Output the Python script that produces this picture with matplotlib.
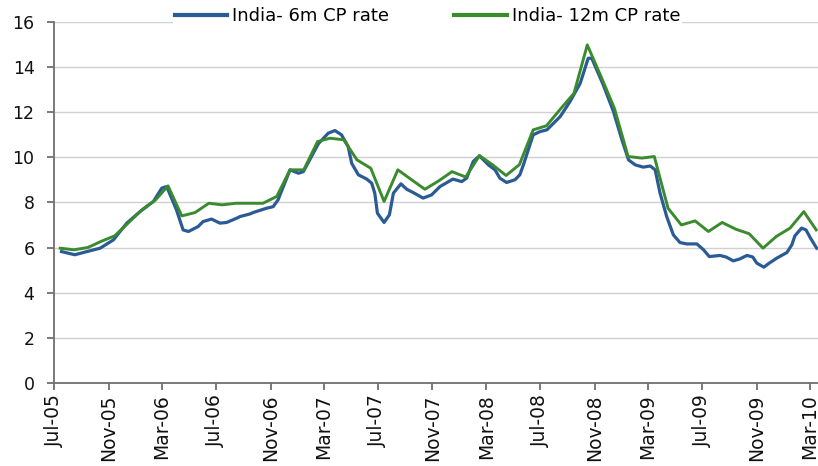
import numpy as np
import pandas as pd
import matplotlib
matplotlib.use("Agg")
import matplotlib.pyplot as plt
import matplotlib.dates as mdates

# 12m CP rate, monthly (mid-month)
dates_12m = pd.date_range("2005-07-01", "2010-03-01", freq="MS") + pd.Timedelta(days=14)
rate_12m = [5.97, 5.90, 6.00, 6.27, 6.52, 7.08,
            7.67, 8.11, 8.73, 7.40, 7.55, 7.96, 7.89, 7.96, 7.96, 7.96, 8.26, 9.44,
            9.44, 10.69, 10.84, 10.77, 9.88, 9.51, 8.04, 9.44, 9.00, 8.58, 8.95, 9.36,
            9.12, 10.07, 9.67, 9.19, 9.67, 11.21, 11.39, 12.12, 12.83, 14.97, 13.57, 12.17,
            10.03, 9.96, 10.03, 7.74, 7.00, 7.18, 6.71, 7.11, 6.81, 6.61, 5.97, 6.49,
            6.86, 7.59, 6.78]

# 6m CP rate
dates_6m = pd.to_datetime([
    "2005-07-18", "2005-08-17", "2005-09-13", "2005-10-13", "2005-11-12", "2005-12-12",
    "2006-01-11", "2006-02-10", "2006-03-01", "2006-03-12", "2006-04-03", "2006-04-18",
    "2006-04-30", "2006-05-22", "2006-06-02", "2006-06-21", "2006-07-10", "2006-07-25",
    "2006-08-17", "2006-08-24", "2006-09-16", "2006-09-23", "2006-10-23", "2006-11-07",
    "2006-11-18", "2006-12-15", "2007-01-03", "2007-01-14", "2007-02-17", "2007-03-11",
    "2007-03-26", "2007-04-10", "2007-04-25", "2007-05-03", "2007-05-18", "2007-06-06",
    "2007-06-17", "2007-06-24", "2007-06-30", "2007-07-15", "2007-07-27", "2007-08-05",
    "2007-08-22", "2007-09-04", "2007-09-19", "2007-10-11", "2007-10-30", "2007-11-18",
    "2007-12-17", "2008-01-06", "2008-01-17", "2008-02-01", "2008-02-15", "2008-03-06",
    "2008-03-21", "2008-04-01", "2008-04-16", "2008-05-05", "2008-05-16", "2008-05-24",
    "2008-06-15", "2008-06-30", "2008-07-16", "2008-08-15", "2008-09-06", "2008-09-29",
    "2008-10-17", "2008-10-25", "2008-11-20", "2008-12-13", "2009-01-01", "2009-01-16",
    "2009-01-31", "2009-02-18", "2009-03-06", "2009-03-17", "2009-03-28", "2009-04-12",
    "2009-04-27", "2009-05-12", "2009-05-27", "2009-06-19", "2009-07-04", "2009-07-17",
    "2009-08-10", "2009-08-24", "2009-09-09", "2009-09-23", "2009-10-10", "2009-10-23",
    "2009-11-01", "2009-11-17", "2009-11-27", "2009-12-16", "2010-01-08", "2010-01-19",
    "2010-01-26", "2010-02-10", "2010-02-20", "2010-03-02", "2010-03-16"])
rate_6m = [5.82, 5.68, 5.82, 5.97, 6.34, 7.08,
           7.59, 8.04, 8.63, 8.70, 7.67, 6.78,
           6.71, 6.93, 7.15, 7.26, 7.08, 7.11,
           7.30, 7.37, 7.49, 7.55, 7.74, 7.81,
           8.11, 9.44, 9.29, 9.36, 10.60, 11.06,
           11.18, 10.99, 10.47, 9.73, 9.22, 9.03,
           8.85, 8.41, 7.52, 7.11, 7.45, 8.41,
           8.82, 8.58, 8.43, 8.19, 8.33, 8.70,
           9.03, 8.92, 9.07, 9.81, 10.06, 9.66,
           9.44, 9.07, 8.88, 9.00, 9.22, 9.66,
           10.99, 11.13, 11.21, 11.80, 12.46, 13.27,
           14.38, 14.38, 13.20, 12.02, 10.77, 9.88,
           9.66, 9.56, 9.61, 9.44, 8.41, 7.37,
           6.56, 6.22, 6.16, 6.16, 5.90, 5.60,
           5.65, 5.58, 5.41, 5.49, 5.65, 5.58,
           5.31, 5.13, 5.28, 5.53, 5.78, 6.12,
           6.52, 6.86, 6.78, 6.42, 5.97]

tick_dates = pd.date_range("2005-07-01", "2010-03-01", freq="4MS")

fig = plt.figure(figsize=(8.18, 4.66), dpi=100)
ax = fig.add_axes([0.066, 0.178, 0.934, 0.7755])

ax.plot(dates_6m, rate_6m, color="#2A5B94", lw=2.3, label="India- 6m CP rate", zorder=3)
ax.plot(dates_12m, rate_12m, color="#3A8A2E", lw=2.1, label="India- 12m CP rate", zorder=4)

ax.set_ylim(0, 16)
ax.set_yticks(np.arange(0, 17, 2))
ax.set_xlim(pd.Timestamp("2005-07-01"), pd.Timestamp("2010-03-19"))
ax.set_xticks(tick_dates)
ax.xaxis.set_major_formatter(mdates.DateFormatter("%b-%y"))
plt.setp(ax.get_xticklabels(), rotation=90)

ax.grid(axis="y", color="#D0D0D0", lw=1)
ax.set_axisbelow(True)
for s in ["top", "right"]:
    ax.spines[s].set_visible(False)
for s in ["left", "bottom"]:
    ax.spines[s].set_color("#707070")
    ax.spines[s].set_linewidth(1.3)
ax.tick_params(axis="both", colors="#707070", labelcolor="#111111",
               length=5, width=1.3, direction="out")
ax.tick_params(axis="y", pad=9, labelsize=12.5)
ax.tick_params(axis="x", pad=3, labelsize=13.5)

leg = ax.legend(loc="center", bbox_to_anchor=(0.489, 1.016), ncol=2, frameon=True,
                fontsize=13, handlelength=2.9, handletextpad=0.3, columnspacing=3.6,
                borderpad=0.1, borderaxespad=0)
leg.get_frame().set_facecolor("white")
leg.get_frame().set_edgecolor("none")
leg.get_frame().set_alpha(1)
for ln in leg.get_lines():
    ln.set_linewidth(3)

fig.savefig("out.png", dpi=100)
